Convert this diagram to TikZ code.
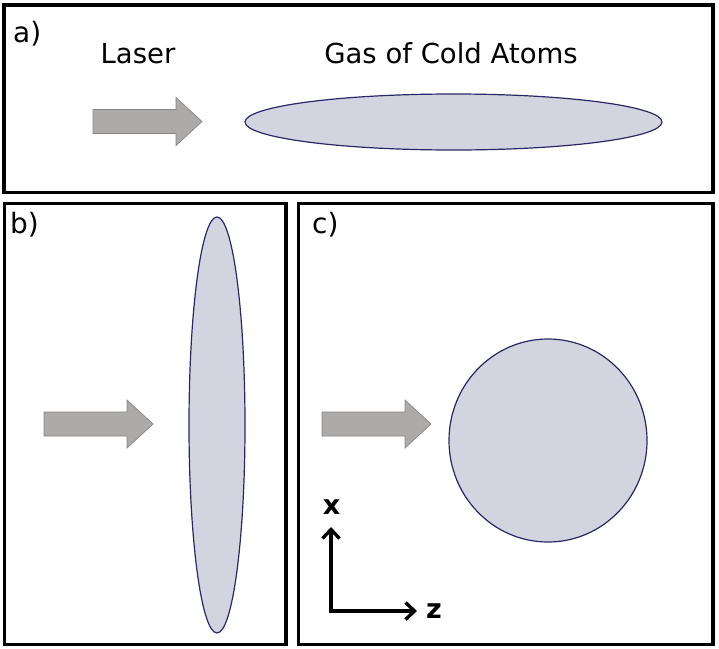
\documentclass[tikz,border=0pt]{standalone}
\usepackage{fontspec}
\setmainfont{DejaVu Sans}
\usetikzlibrary{shapes.geometric,arrows.meta}
\definecolor{gasfill}{RGB}{210,213,224}
\definecolor{gasline}{RGB}{40,40,100}
\definecolor{arrfill}{RGB}{173,170,170}
\definecolor{arrline}{RGB}{135,132,132}
\tikzset{
  panel/.style={draw=black,line width=3.6pt,inner sep=0pt,minimum width=#1},
  gas/.style={ellipse,draw=gasline,fill=gasfill,line width=1.2pt,inner sep=0pt},
  lbl/.style={font=\fontsize{27.5}{33}\selectfont,inner sep=0pt,anchor=base},
  tag/.style={font=\fontsize{28}{33}\selectfont,inner sep=0pt,anchor=base west},
  axis/.style={line width=3.4pt,{Straight Barb[length=9pt,width=17pt]}-{Straight Barb[length=9pt,width=17pt]}},
  axlbl/.style={font=\fontsize{27}{30}\selectfont\bfseries,inner sep=0pt},
  laser/.style={fill=arrfill,draw=arrline,line width=0.7pt,line join=miter}
}
\newcommand{\laserarrow}[2]{%
  \draw[laser] (#1,#2-12) -- (#1+83,#2-12) -- (#1+83,#2-24) -- (#1+109,#2)
    -- (#1+83,#2+24) -- (#1+83,#2+12) -- (#1,#2+12) -- cycle;}
\begin{document}
\begin{tikzpicture}[x=1pt,y=-1pt]
\useasboundingbox (0,0) rectangle (719,648);
% panels
\node[panel=709pt,minimum height=187.5pt] (pa) at (358.5,98.75) {};
\node[panel=281.7pt,minimum height=441pt] (pb) at (145.15,424) {};
\node[panel=414.5pt,minimum height=441pt] (pc) at (505.75,424) {};
% tags
\node[tag] (ta) at (13,42) {a)};
\node[tag] (tb) at (10,233) {b)};
\node[tag] (tc) at (312,233) {c)};
% panel a
\node[lbl] (laserlbl) at (138,63) {Laser};
\node[lbl] (gaslbl) at (451,63) {Gas of Cold Atoms};
\laserarrow{93}{121.5}
\node[gas,minimum width=417pt,minimum height=56pt] (ga) at (453.5,122) {};
% panel b
\laserarrow{44}{424}
\node[gas,minimum width=56pt,minimum height=416pt] (gb) at (217,425) {};
% panel c
\laserarrow{322}{424}
\node[gas,minimum width=198pt,minimum height=203pt] (gc) at (548,440.5) {};
% axes
\coordinate (orig) at (331,611);
\coordinate (xtip) at (331,527);
\coordinate (ztip) at (417,611);
\draw[axis] (xtip) -- (orig) -- (ztip);
\node[axlbl] (xl) at (331.5,507) {x};
\node[axlbl] (zl) at (434,611) {z};
\end{tikzpicture}
\end{document}
